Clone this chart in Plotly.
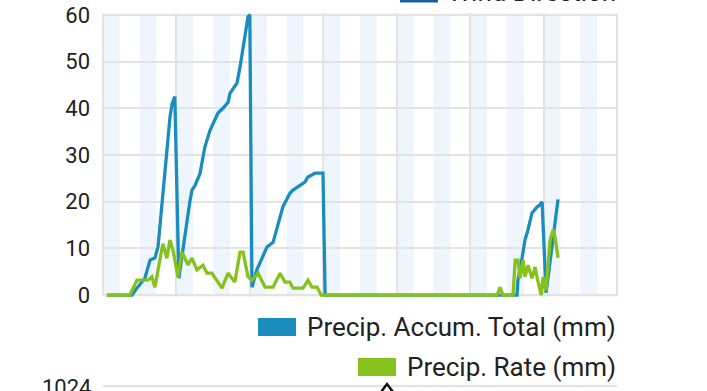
import plotly.graph_objects as go

# ---- data (hours since start of 7-day window) ----
hours_accum = [1.3, 9.5, 11.1, 13.7, 15.4, 17.0, 18.0, 19.3, 20.3, 21.3, 21.9, 22.6, 23.5,
               24.8, 26.1, 27.5, 28.4, 29.1, 30.1, 31.7, 33.3, 35.0, 37.6, 39.2, 40.9, 41.5,
               43.8, 44.8, 46.4, 47.4, 48.0,
               48.7, 50.3, 52.0, 53.6, 55.6, 57.2, 58.8, 61.1, 62.1, 64.4, 66.0, 67.0, 69.3, 71.9,
               72.6, 135.3, 135.6, 137.0, 137.9, 138.9, 140.2, 141.9, 142.8, 143.5, 144.8, 148.7]
accum_total = [0, 0, 1.5, 3.6, 7.5, 8.0, 10.3, 20, 27.4, 33, 38, 41, 42.5,
               3.6, 9.6, 16.7, 20, 22.5, 23.5, 26, 31.7, 35.3, 39, 40, 41.3, 43.2,
               45.4, 48.8, 55.3, 59.6, 60,
               1.7, 5.4, 8.1, 10.3, 11.3, 15.4, 18.9, 21.8, 22.5, 23.5, 24.2, 25.3, 26.1, 26.1,
               0, 0, 3.2, 8.1, 11.8, 14, 17.6, 18.9, 19.3, 20, 0.5, 20.5]

hours_rate = [1.3, 8.8, 11.1, 14.7, 16.0, 17.0, 18.6, 19.6, 20.9, 21.9, 22.9, 24.5, 25.8,
              27.8, 29.1, 30.7, 32.7, 34.0, 35.6, 37.3, 38.9, 40.9, 43.1, 44.8, 45.8, 47.4,
              48.7, 50.7, 53.0, 55.6, 57.9, 59.5, 61.1, 62.1, 65.4, 67.0, 68.3, 70.0, 71.3,
              128.8, 129.8, 130.7, 134.0, 134.7, 135.6, 136.3, 137.3, 137.9, 138.9, 140.2,
              141.2, 142.2, 143.2, 143.8, 144.8, 146.1, 147.1, 147.7, 148.7]
precip_rate = [0, 0, 3.2, 3.2, 3.9, 1.7, 7.5, 11, 7.9, 11.8, 9.6, 3.9, 9.2,
               6.5, 7.9, 5.4, 6.4, 4.7, 4.7, 3.2, 1.5, 4.7, 2.8, 9.2, 9.2, 3.9,
               3.2, 4.7, 1.7, 1.7, 4.7, 2.8, 2.8, 1.5, 1.5, 3.2, 1.7, 1.7, 0,
               0, 1.7, 0, 0, 7.5, 7.5, 3.6, 7.5, 3.9, 6.4, 3.6,
               6.0, 2.8, 0, 3.9, 1.0, 11.8, 14, 12.5, 8]

y_ticks = [0, 10, 20, 30, 40, 50, 60]
day_starts = [0, 24, 48, 72, 96, 120, 144]

series_names = ["Precip. Accum. Total (mm)", "Precip. Rate (mm)"]
top_legend_name = "Wind Direction"
next_chart_tick = "1024"

BLUE = "#1A8DBE"
GREEN = "#86C11C"
WIND_BLUE = "#1F5CA6"
GRID = "#E3E3E3"
BAND = "#EEF5FC"
TEXT = "#222222"
FONT = "Roboto"

W, H = 707, 391
L, R, T, B = 102, 89, 13, 94


def pxx(xp):
    return (xp - L) / (W - L - R)


def pxy(yp):
    return (H - B - yp) / (H - T - B)


fig = go.Figure()
fig.add_trace(go.Scatter(x=hours_accum, y=accum_total, mode="lines",
                         line=dict(color=BLUE, width=3.3), showlegend=False,
                         name=series_names[0]))
fig.add_trace(go.Scatter(x=hours_rate, y=precip_rate, mode="lines",
                         line=dict(color=GREEN, width=3.3), showlegend=False,
                         name=series_names[1]))

shapes = []
for d in day_starts:
    for k in (0, 12):
        shapes.append(dict(type="rect", xref="x", yref="y", x0=d + k, x1=d + k + 5.5,
                           y0=0, y1=60, fillcolor=BAND, line=dict(width=0), layer="below"))
# plot frame
shapes.append(dict(type="rect", xref="x", yref="y", x0=0, x1=168, y0=0, y1=60,
                   line=dict(color=GRID, width=2), layer="below"))
# legend swatches
shapes.append(dict(type="rect", xref="paper", yref="paper", x0=pxx(258), x1=pxx(296),
                   y0=pxy(336), y1=pxy(318), fillcolor=BLUE, line=dict(width=0)))
shapes.append(dict(type="rect", xref="paper", yref="paper", x0=pxx(358), x1=pxx(396),
                   y0=pxy(376), y1=pxy(358), fillcolor=GREEN, line=dict(width=0)))
shapes.append(dict(type="rect", xref="paper", yref="paper", x0=pxx(400), x1=pxx(438),
                   y0=pxy(2.5), y1=pxy(-16), fillcolor=WIND_BLUE, line=dict(width=0)))
# top border of next chart
shapes.append(dict(type="line", xref="paper", yref="paper", x0=pxx(103), x1=pxx(617),
                   y0=pxy(386), y1=pxy(386), line=dict(color=GRID, width=2)))
# wind arrow glyph of next chart
shapes.append(dict(type="path", xref="paper", yref="paper",
                   path="M {:.4f},{:.4f} L {:.4f},{:.4f} L {:.4f},{:.4f}".format(
                       pxx(381), pxy(392), pxx(387), pxy(384), pxx(393), pxy(392)),
                   line=dict(color="#111111", width=2.5)))

annotations = [
    dict(xref="paper", yref="paper", x=pxx(618), y=pxy(326.5), xanchor="right",
         yanchor="middle", text=series_names[0], showarrow=False,
         font=dict(family=FONT, size=26, color=TEXT)),
    dict(xref="paper", yref="paper", x=pxx(618), y=pxy(366.5), xanchor="right",
         yanchor="middle", text=series_names[1], showarrow=False,
         font=dict(family=FONT, size=26, color=TEXT)),
    dict(xref="paper", yref="paper", x=pxx(618), y=pxy(-8.4), xanchor="right",
         yanchor="middle", text=top_legend_name, showarrow=False,
         font=dict(family=FONT, size=26, color=TEXT)),
    dict(xref="paper", yref="paper", x=pxx(93), y=pxy(387), xanchor="right",
         yanchor="middle", text=next_chart_tick, showarrow=False,
         font=dict(family=FONT, size=22, color=TEXT)),
]

fig.update_layout(
    width=W, height=H,
    margin=dict(l=L, r=R, t=T, b=B, pad=0, autoexpand=False),
    paper_bgcolor="white", plot_bgcolor="white",
    showlegend=False,
    shapes=shapes, annotations=annotations,
    xaxis=dict(range=[-0.3, 168.3], tickvals=day_starts + [168], showticklabels=False,
               showgrid=True, gridcolor=GRID, gridwidth=2, zeroline=False,
               showline=False, ticks="", automargin=False),
    yaxis=dict(range=[-0.4, 60.4], tickvals=y_ticks, showgrid=True, gridcolor=GRID,
               gridwidth=1.5, zeroline=False, showline=False, ticks="",
               ticklabelstandoff=11, automargin=False,
               tickfont=dict(family=FONT, size=22, color=TEXT)),
)

fig.write_html("out.html", config={"displayModeBar": False},
               post_script="document.body.style.margin='0';document.body.style.overflow='hidden';")
